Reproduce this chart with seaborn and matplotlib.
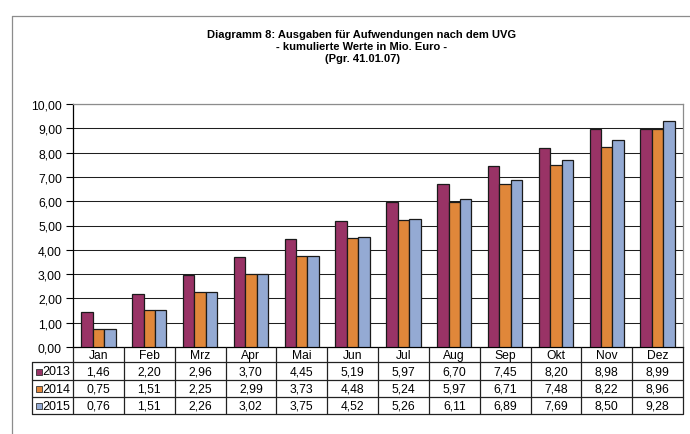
import matplotlib
matplotlib.use("Agg")
import matplotlib.pyplot as plt
from matplotlib.lines import Line2D
from matplotlib.patches import Rectangle
import seaborn as sns
import pandas as pd

# ---- data -------------------------------------------------------------
months = ["Jan", "Feb", "Mrz", "Apr", "Mai", "Jun",
          "Jul", "Aug", "Sep", "Okt", "Nov", "Dez"]
years = ["2013", "2014", "2015"]
values_2013 = [1.46, 2.20, 2.96, 3.70, 4.45, 5.19, 5.97, 6.70, 7.45, 8.20, 8.98, 8.99]
values_2014 = [0.75, 1.51, 2.25, 2.99, 3.73, 4.48, 5.24, 5.97, 6.71, 7.48, 8.22, 8.96]
values_2015 = [0.76, 1.51, 2.26, 3.02, 3.75, 4.52, 5.26, 6.11, 6.89, 7.69, 8.50, 9.28]
y_ticks = [0, 1, 2, 3, 4, 5, 6, 7, 8, 9, 10]

title = ("Diagramm 8: Ausgaben für Aufwendungen nach dem UVG\n"
         "- kumulierte Werte in Mio. Euro -\n"
         "(Pgr. 41.01.07)")

colors = ["#993366", "#E0873A", "#94AAD3"]
series = [values_2013, values_2014, values_2015]

df = pd.DataFrame({
    "Monat": months * 3,
    "Jahr": [y for y in years for _ in months],
    "Wert": values_2013 + values_2014 + values_2015,
})


def de(v):
    return f"{v:.2f}".replace(".", ",")


# ---- layout (pixels) --------------------------------------------------
W, H = 690, 435
plot_l, plot_r, plot_t, plot_b = 73, 683, 105, 348
tab_l, tab_b = 32, 415
row_edges = [0, 15, 33, 50, 67]   # header + 3 data rows, measured downward

sns.set_theme(style="white")
plt.rcParams["font.family"] = ["Liberation Sans", "DejaVu Sans"]

fig = plt.figure(figsize=(W / 100, H / 100), dpi=100)
fig.patch.set_facecolor("white")

ax = fig.add_axes([plot_l / W, 1 - plot_b / H,
                   (plot_r - plot_l) / W, (plot_b - plot_t) / H])

sns.barplot(data=df, x="Monat", y="Wert", hue="Jahr", order=months,
            hue_order=years, palette=colors, saturation=1, width=0.675,
            edgecolor="#1a1a1a", linewidth=0.9, legend=False, ax=ax,
            zorder=3)

ax.set_xlim(-0.5, len(months) - 0.5)
ax.set_ylim(0, 10)
ax.set_yticks(y_ticks)
ax.set_yticklabels([de(v) for v in y_ticks], fontsize=8.7, color="black")
ax.set_xticks([])
ax.set_xlabel("")
ax.set_ylabel("")
ax.tick_params(axis="y", which="major", direction="out", length=5,
               width=0.8, color="black", pad=3, left=True)
for v in y_ticks[1:]:
    ax.axhline(v, color="#1f1f1f", lw=0.75, zorder=1)
ax.spines["left"].set_color("black")
ax.spines["left"].set_linewidth(0.9)
ax.spines["bottom"].set_color("black")
ax.spines["bottom"].set_linewidth(0.9)
for s in ("top", "right"):
    ax.spines[s].set_color("#8c8c8c")
    ax.spines[s].set_linewidth(0.9)

# ---- data table under the plot ---------------------------------------
units_per_px = len(months) / (plot_r - plot_l)
tax = fig.add_axes([tab_l / W, 1 - tab_b / H,
                    (plot_r - tab_l) / W, (tab_b - plot_b) / H])
x_left = -0.5 - (plot_l - tab_l) * units_per_px
tax.set_xlim(x_left, len(months) - 0.5)
tax.set_ylim(row_edges[-1], 0)
tax.axis("off")

lc = "#222222"
lw = 0.9
# vertical dividers between months (full height)
for k in range(len(months) + 1):
    tax.plot([k - 0.5, k - 0.5], [0, row_edges[-1]], color=lc, lw=lw,
             solid_capstyle="butt", clip_on=False)
# left border of the row-label column
tax.plot([x_left, x_left], [row_edges[1], row_edges[-1]], color=lc, lw=lw,
         clip_on=False)
# horizontal row lines
for e in row_edges[1:]:
    tax.plot([x_left, len(months) - 0.5], [e, e], color=lc, lw=lw,
             clip_on=False)

fs = 8.7
for i, m in enumerate(months):
    tax.text(i, (row_edges[0] + row_edges[1]) / 2 + 0.5, m, ha="center",
             va="center", fontsize=fs, color="black")
for r, (yr, vals, col) in enumerate(zip(years, series, colors)):
    yc = (row_edges[r + 1] + row_edges[r + 2]) / 2 + 0.5
    for i, v in enumerate(vals):
        tax.text(i, yc, de(v), ha="center", va="center", fontsize=fs,
                 color="black")
    sq = 5.5 * units_per_px
    tax.add_patch(Rectangle((x_left + 4 * units_per_px, yc - 3),
                            sq, 6, facecolor=col, edgecolor="#333333",
                            lw=0.6, clip_on=False))
    tax.text(x_left + 10 * units_per_px, yc, yr, ha="left", va="center",
             fontsize=9, color="black")

# ---- title and chart frame -------------------------------------------
fig.text(362 / W, 1 - 30 / H, title, ha="center", va="top", fontsize=8,
         fontweight="bold", linespacing=1.25, color="black")
fig.add_artist(Line2D([12 / W, 12 / W], [0, 1 - 17 / H], color="#8c8c8c",
                      lw=0.9, transform=fig.transFigure))
fig.add_artist(Line2D([12 / W, 1], [1 - 17 / H, 1 - 17 / H], color="#8c8c8c",
                      lw=0.9, transform=fig.transFigure))

fig.savefig("out.png", dpi=100, facecolor="white")
